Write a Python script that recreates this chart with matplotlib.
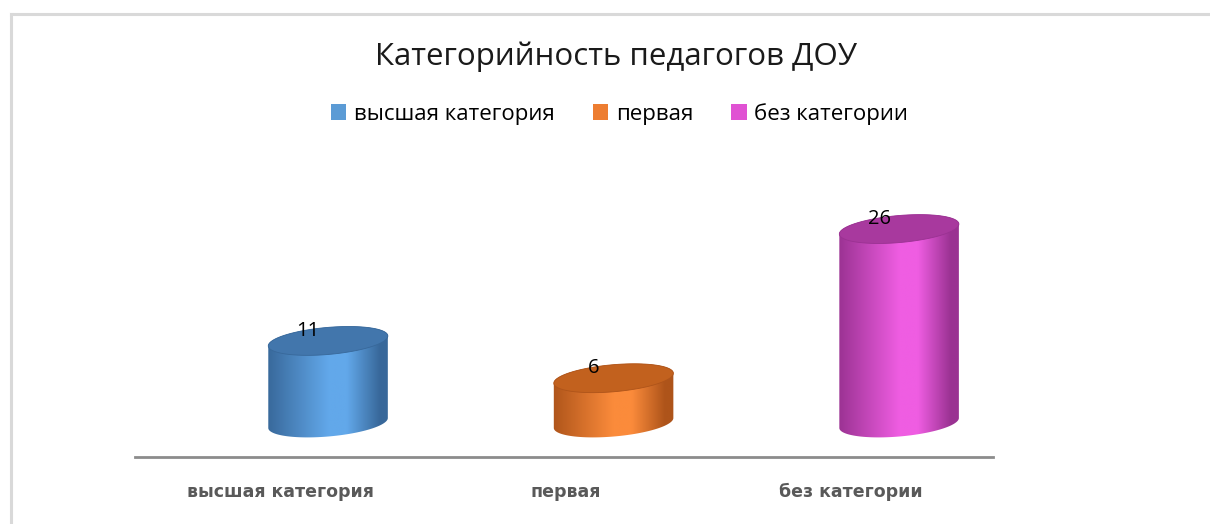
import numpy as np
import matplotlib
matplotlib.use("Agg")
import matplotlib.pyplot as plt
from matplotlib.colors import LinearSegmentedColormap
from matplotlib.patches import Polygon, Rectangle

# --- Данные ---
categories = ["высшая категория", "первая", "без категории"]
values = [11, 6, 26]
title = "Категорийность педагогов ДОУ"

legend_colors = ["#5B9BD5", "#ED7D31", "#E052D3"]
edge_colors = ["#38689A", "#AE541A", "#9A3292"]
mid_colors = ["#62A8EA", "#FB8B3B", "#EF5DE2"]
top_colors = ["#4276AC", "#C2611E", "#A8399E"]

fig = plt.figure(figsize=(12.1, 5.24), dpi=100)

# рамка области диаграммы (видны только левая и верхняя стороны)
fig.add_artist(plt.Line2D([0.009, 0.009], [0.0, 0.974], color="#D9D9D9", lw=2.2))
fig.add_artist(plt.Line2D([0.009, 1.0], [0.974, 0.974], color="#D9D9D9", lw=2.2))

fig.text(0.509, 0.891, title, ha="center", va="center",
         fontsize=22.5, family=["Open Sans", "DejaVu Sans"], color="#1A1A1A")

ax = fig.add_axes([0.1116, 0.1279, 0.7091, 0.4905])
xmin, xmax = -0.676, 2.329
ymin, ymax = -4.56, 29.9
ax.set_xlim(xmin, xmax)
ax.set_ylim(ymin, ymax)
for s in ["top", "right", "left"]:
    ax.spines[s].set_visible(False)
ax.spines["bottom"].set_color("#8C8C8C")
ax.spines["bottom"].set_linewidth(2)
ax.set_yticks([])
ax.set_xticks([])

fig.canvas.draw()
bb = ax.get_window_extent()
sx = bb.width / (xmax - xmin)   # пикселей на единицу x
sy = bb.height / (ymax - ymin)  # пикселей на единицу y

a, b = 60.0, 13.5          # полуоси эллипса в пикселях
theta = np.deg2rad(5.0)


def ellipse_pts(cx, cy, t):
    ex = a * np.cos(t) * np.cos(theta) - b * np.sin(t) * np.sin(theta)
    ey = a * np.cos(t) * np.sin(theta) + b * np.sin(t) * np.cos(theta)
    return cx + ex / sx, cy + ey / sy


for i, (cat, v) in enumerate(zip(categories, values)):
    x0 = i
    yb = 0.0
    yt = yb + v
    # тело цилиндра
    t_front = np.linspace(np.pi, 2 * np.pi, 80)
    t_back = np.linspace(0, np.pi, 80)
    bx, by = ellipse_pts(x0, yb, t_front)
    tx, ty = ellipse_pts(x0, yt, t_back)
    verts = np.column_stack([np.concatenate([bx, tx]), np.concatenate([by, ty])])
    body = Polygon(verts, closed=True, facecolor="none", edgecolor="none")
    ax.add_patch(body)
    cmap = LinearSegmentedColormap.from_list(
        "c%d" % i, [(0, edge_colors[i]), (0.5, mid_colors[i]), (0.65, mid_colors[i]),
                    (0.92, edge_colors[i]), (1, edge_colors[i])])
    grad = np.linspace(0, 1, 256).reshape(1, -1)
    hw = a / sx
    im = ax.imshow(grad, cmap=cmap, aspect="auto", interpolation="bilinear",
                   extent=[x0 - hw * 1.02, x0 + hw * 1.02, yb - 3, yt + 3], zorder=2)
    im.set_clip_path(body)
    # верхний эллипс
    t_all = np.linspace(0, 2 * np.pi, 160)
    ex, ey = ellipse_pts(x0, yt, t_all)
    ax.add_patch(Polygon(np.column_stack([ex, ey]), closed=True,
                         facecolor=top_colors[i], edgecolor=edge_colors[i], lw=0.6, zorder=3))
    # подпись значения
    ax.annotate(str(v), (x0, yt), xytext=(-20, 10), textcoords="offset pixels",
                ha="center", va="center", fontsize=14.5, color="#000000",
                family=["Open Sans", "DejaVu Sans"], zorder=5, annotation_clip=False)
    # подпись категории
    ax.annotate(cat, (x0, ymin), xytext=(-48, -35), textcoords="offset pixels",
                ha="center", va="center", fontsize=12.5, color="#595959",
                family=["Liberation Sans Narrow", "DejaVu Sans"], fontweight="bold",
                annotation_clip=False)

ax.set_xlim(xmin, xmax)
ax.set_ylim(ymin, ymax)

# легенда
handles = [Rectangle((0, 0), 1, 1, facecolor=c, edgecolor="none") for c in legend_colors]
fig.legend(handles, categories, loc="center", bbox_to_anchor=(0.512, 0.783), ncol=3,
           frameon=False, handlelength=0.7, handleheight=0.7,
           handletextpad=0.35, columnspacing=1.7,
           prop={"family": ["Open Sans", "DejaVu Sans"], "size": 16})

fig.savefig("out.png", dpi=100)
